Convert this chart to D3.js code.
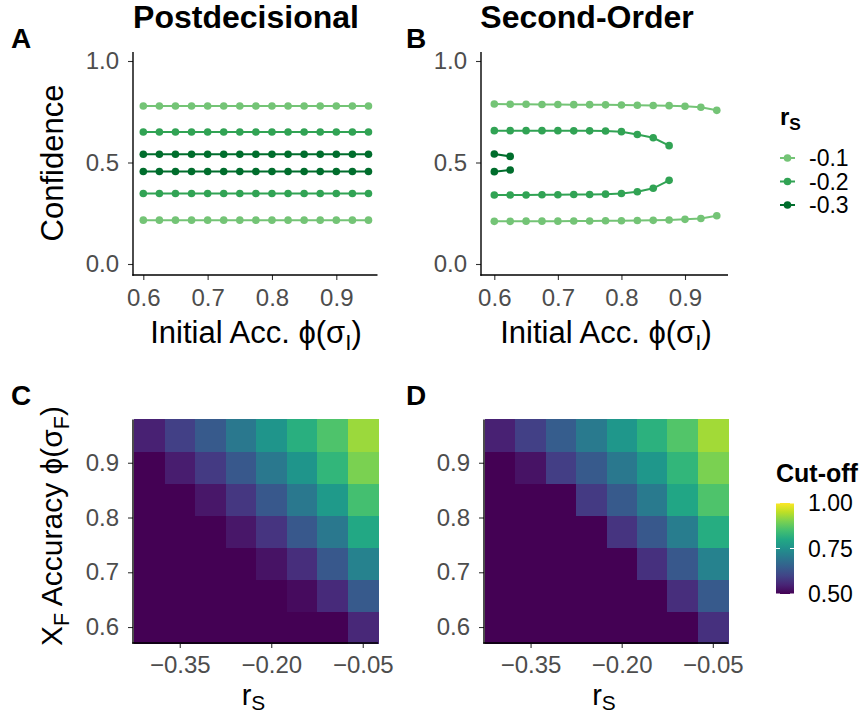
<!DOCTYPE html>
<html>
<head>
<meta charset="utf-8">
<script src="https://cdn.jsdelivr.net/npm/d3@7"></script>
<style>
  body { margin: 0; background: #fff; }
  text { font-family: "Liberation Sans", Arial, sans-serif; }
</style>
</head>
<body>
<div id="chart"></div>
<script>
// ---- data ----
var accuracy = [0.6, 0.625, 0.65, 0.675, 0.7, 0.725, 0.75, 0.775, 0.8, 0.825, 0.85, 0.875, 0.9, 0.925, 0.95];
var rsLevels = ["-0.1", "-0.2", "-0.3"];
var greens = ["#74c476", "#31a354", "#006d2c"];

// Postdecisional (panel A)
var postHi1 = [0.778, 0.778, 0.778, 0.778, 0.778, 0.778, 0.778, 0.778, 0.778, 0.778, 0.778, 0.778, 0.778, 0.778, 0.778];
var postLo1 = [0.216, 0.216, 0.216, 0.216, 0.216, 0.216, 0.216, 0.216, 0.216, 0.216, 0.216, 0.216, 0.216, 0.216, 0.216];
var postHi2 = [0.650, 0.650, 0.650, 0.650, 0.650, 0.650, 0.650, 0.650, 0.650, 0.650, 0.650, 0.650, 0.650, 0.650, 0.650];
var postLo2 = [0.347, 0.347, 0.347, 0.347, 0.347, 0.347, 0.347, 0.347, 0.347, 0.347, 0.347, 0.347, 0.347, 0.347, 0.347];
var postHi3 = [0.541, 0.541, 0.541, 0.541, 0.541, 0.541, 0.541, 0.541, 0.541, 0.541, 0.541, 0.541, 0.541, 0.541, 0.541];
var postLo3 = [0.456, 0.456, 0.456, 0.456, 0.456, 0.456, 0.456, 0.456, 0.456, 0.456, 0.456, 0.456, 0.456, 0.456, 0.456];

// Second-order (panel B)
var secHi1 = [0.788, 0.787, 0.787, 0.786, 0.786, 0.785, 0.785, 0.784, 0.783, 0.782, 0.781, 0.780, 0.777, 0.772, 0.757];
var secLo1 = [0.210, 0.210, 0.211, 0.211, 0.211, 0.212, 0.212, 0.213, 0.213, 0.214, 0.215, 0.217, 0.220, 0.224, 0.238];
var secHi2 = [0.657, 0.657, 0.657, 0.657, 0.657, 0.656, 0.656, 0.655, 0.652, 0.638, 0.622, 0.583];
var secLo2 = [0.340, 0.340, 0.340, 0.341, 0.341, 0.342, 0.342, 0.344, 0.347, 0.356, 0.373, 0.412];
var secHi3 = [0.542, 0.530];
var secLo3 = [0.455, 0.463];

// heatmaps (rows = X_F accuracy from 0.6 up to 0.95, columns = r_S)
var rsGrid = [-0.40, -0.35, -0.30, -0.25, -0.20, -0.15, -0.10, -0.05];
var xfAcc = [0.6, 0.6583, 0.7167, 0.775, 0.8333, 0.8917, 0.95];
var cutoffPost = [
    [0.5, 0.5, 0.5, 0.5, 0.5, 0.5, 0.5, 0.555],
    [0.5, 0.5, 0.5, 0.5, 0.5, 0.515, 0.56, 0.64],
    [0.5, 0.5, 0.5, 0.5, 0.525, 0.565, 0.635, 0.72],
    [0.5, 0.5, 0.5, 0.53, 0.575, 0.635, 0.70, 0.80],
    [0.5, 0.5, 0.53, 0.58, 0.635, 0.70, 0.77, 0.85],
    [0.5, 0.54, 0.585, 0.635, 0.70, 0.76, 0.83, 0.90],
    [0.545, 0.595, 0.64, 0.70, 0.76, 0.815, 0.86, 0.925]
];
var cutoffSecond = [
    [0.5, 0.5, 0.5, 0.5, 0.5, 0.5, 0.5, 0.57],
    [0.5, 0.5, 0.5, 0.5, 0.5, 0.5, 0.565, 0.64],
    [0.5, 0.5, 0.5, 0.5, 0.5, 0.57, 0.635, 0.72],
    [0.5, 0.5, 0.5, 0.5, 0.575, 0.635, 0.71, 0.81],
    [0.5, 0.5, 0.5, 0.585, 0.64, 0.705, 0.795, 0.86],
    [0.5, 0.525, 0.59, 0.64, 0.70, 0.765, 0.83, 0.90],
    [0.545, 0.595, 0.645, 0.705, 0.765, 0.82, 0.865, 0.93]
];
var confTicks = [0, 0.5, 1];
var accTicks = [0.6, 0.7, 0.8, 0.9];
var rsTicks = [-0.35, -0.20, -0.05];
var cutoffTicks = [0.5, 0.75, 1];

var postSeries = [
    {rs: "-0.1", values: postHi1}, {rs: "-0.1", values: postLo1},
    {rs: "-0.2", values: postHi2}, {rs: "-0.2", values: postLo2},
    {rs: "-0.3", values: postHi3}, {rs: "-0.3", values: postLo3}
];
var secSeries = [
    {rs: "-0.1", values: secHi1}, {rs: "-0.1", values: secLo1},
    {rs: "-0.2", values: secHi2}, {rs: "-0.2", values: secLo2},
    {rs: "-0.3", values: secHi3}, {rs: "-0.3", values: secLo3}
];

var width = 863;
var height = 717;
var svg = d3.select('#chart').append('svg')
    .attr('width', width)
    .attr('height', height);

var color = d3.scaleOrdinal().domain(rsLevels).range(greens);
var fill = d3.scaleSequential(d3.interpolateViridis).domain([0.5, 1]);

var tickGrey = "#4d4d4d";

function styleAxis(g) {
    g.select(".domain").remove();
    g.selectAll(".tick line").attr("stroke", "#333").attr("stroke-width", 1.1);
    g.selectAll(".tick text")
        .attr("fill", tickGrey)
        .style("font-size", "24px")
        .style("font-family", "'Liberation Sans', Arial, sans-serif");
}

function frame(left, right, top, bottom) {
    svg.append("line").attr("x1", left).attr("x2", left).attr("y1", top).attr("y2", bottom + 0.7)
        .attr("stroke", "#000").attr("stroke-width", 1.4);
    svg.append("line").attr("x1", left - 0.7).attr("x2", right).attr("y1", bottom).attr("y2", bottom)
        .attr("stroke", "#000").attr("stroke-width", 1.4);
}

// text with subscripts: parts = [[text, isSub], ...]
function richText(sel, parts, size, shift) {
    var s = shift || 0.22;
    parts.forEach(function (p, i) {
        var prevSub = i > 0 && parts[i - 1][1];
        var t = sel.append("tspan").text(p[0]);
        if (p[1]) {
            t.style("font-size", (size * 0.72) + "px").attr("dy", size * s);
        } else if (prevSub) {
            t.attr("dy", -size * s);
        }
    });
    return sel;
}

function linePanel(series, left, right, xScale, letter, title, titleX, axisTitleX) {
    var top = 52, bottom = 275;
    var y = d3.scaleLinear().domain([0, 1]).range([264, 61]);

    var line = d3.line()
        .x(function (d) { return xScale(d.x); })
        .y(function (d) { return y(d.y); });

    var marks = svg.append("g");
    series.forEach(function (s) {
        var pts = s.values.map(function (v, i) { return {x: accuracy[i], y: v}; });
        marks.append("path").datum(pts)
            .attr("d", line)
            .attr("fill", "none")
            .attr("stroke", color(s.rs))
            .attr("stroke-width", 2);
        marks.selectAll(null).data(pts).enter().append("circle")
            .attr("cx", function (d) { return xScale(d.x); })
            .attr("cy", function (d) { return y(d.y); })
            .attr("r", 3.8)
            .attr("fill", color(s.rs));
    });

    svg.append("g").attr("transform", "translate(" + left + ",0)")
        .call(d3.axisLeft(y).tickValues(confTicks).tickSize(5).tickPadding(9).tickFormat(d3.format(".1f")))
        .call(styleAxis);
    svg.append("g").attr("transform", "translate(0," + bottom + ")")
        .call(d3.axisBottom(xScale).tickValues(accTicks).tickSize(5).tickPadding(9).tickFormat(d3.format(".1f")))
        .call(styleAxis);
    frame(left, right, top, bottom);

    svg.append("text").attr("x", titleX).attr("y", 28).attr("text-anchor", "middle")
        .style("font-size", "32px").style("font-weight", "bold").text(title);
    svg.append("text").attr("x", letter.x).attr("y", 48)
        .style("font-size", "28px").style("font-weight", "bold").text(letter.t);

    var xt = svg.append("text").attr("x", axisTitleX).attr("y", 343).attr("text-anchor", "middle")
        .style("font-size", "31px");
    richText(xt, [["Initial Acc. \u03D5(\u03C3", false], ["I", true], [")", false]], 31);
}

// panel A
var xA = d3.scaleLinear().domain([0.6, 0.9]).range([143.3, 336.3]);
linePanel(postSeries, 133, 377.5, xA, {x: 11, t: "A"}, "Postdecisional", 246, 256);
svg.append("text").attr("transform", "translate(63,163) rotate(-90)").attr("text-anchor", "middle")
    .style("font-size", "31px").text("Confidence");

// panel B
var xB = d3.scaleLinear().domain([0.6, 0.9]).range([494.3, 685]);
linePanel(secSeries, 481, 728, xB, {x: 406, t: "B"}, "Second-Order", 587, 606);

// legend for r_S
var legend = svg.append("g");
var lt = legend.append("text").attr("x", 780).attr("y", 125).style("font-size", "24px").style("font-weight", "bold");
richText(lt, [["r", false], ["S", true]], 24);
var legendY = d3.scalePoint().domain(rsLevels).range([158, 205]);
rsLevels.forEach(function (r) {
    var yy = legendY(r);
    legend.append("line").attr("x1", 780).attr("x2", 795).attr("y1", yy).attr("y2", yy)
        .attr("stroke", color(r)).attr("stroke-width", 2);
    legend.append("circle").attr("cx", 787.5).attr("cy", yy).attr("r", 3.8).attr("fill", color(r));
    legend.append("text").attr("x", 809).attr("y", yy + 8).style("font-size", "23px").text(r);
});

// heatmaps
function heatPanel(grid, left, right, letter) {
    var top = 419.4, bottom = 643;
    var halfX = (rsGrid[1] - rsGrid[0]) / 2;
    var halfY = (xfAcc[1] - xfAcc[0]) / 2;
    var x = d3.scaleLinear().domain([rsGrid[0] - halfX, rsGrid[rsGrid.length - 1] + halfX]).range([left + 1, right]);
    var y = d3.scaleLinear().domain([xfAcc[0] - halfY, xfAcc[xfAcc.length - 1] + halfY]).range([bottom, top]);

    var cells = [];
    grid.forEach(function (row, i) {
        row.forEach(function (v, j) { cells.push({rs: rsGrid[j], acc: xfAcc[i], v: v}); });
    });
    svg.append("g").attr("shape-rendering", "crispEdges").selectAll("rect").data(cells).enter().append("rect")
        .attr("x", function (d) { return x(d.rs - halfX); })
        .attr("y", function (d) { return y(d.acc + halfY); })
        .attr("width", function (d) { return x(d.rs + halfX) - x(d.rs - halfX) + 0.6; })
        .attr("height", function (d) { return y(d.acc - halfY) - y(d.acc + halfY) + 0.6; })
        .attr("fill", function (d) { return fill(d.v); });

    svg.append("g").attr("transform", "translate(" + left + ",0)")
        .call(d3.axisLeft(y).tickValues([0.6, 0.7, 0.8, 0.9]).tickSize(5).tickPadding(9).tickFormat(d3.format(".1f")))
        .call(styleAxis);
    svg.append("g").attr("transform", "translate(0," + bottom + ")")
        .call(d3.axisBottom(x).tickValues(rsTicks).tickSize(5).tickPadding(8).tickFormat(d3.format(".2f")))
        .call(styleAxis);
    frame(left, right, top, bottom);

    svg.append("text").attr("x", letter.x).attr("y", 405)
        .style("font-size", "28px").style("font-weight", "bold").text(letter.t);
    var xt = svg.append("text").attr("x", (left + right) / 2 - 2).attr("y", 705).attr("text-anchor", "middle")
        .style("font-size", "29px");
    richText(xt, [["r", false], ["S", true]], 29, 0.18);
}

heatPanel(cutoffPost, 133, 378, {x: 11, t: "C"});
heatPanel(cutoffSecond, 484, 728, {x: 406, t: "D"});

var yt = svg.append("text").attr("transform", "translate(62,526) rotate(-90)").attr("text-anchor", "middle")
    .style("font-size", "30px");
richText(yt, [["X", false], ["F", true], [" Accuracy \u03D5(\u03C3", false], ["F", true], [")", false]], 30);

// colour bar
var cb = d3.scaleLinear().domain([0.5, 1]).range([594, 503]);
var grad = svg.append("defs").append("linearGradient").attr("id", "vir")
    .attr("x1", 0).attr("x2", 0).attr("y1", 1).attr("y2", 0);
d3.range(0, 1.0001, 0.1).forEach(function (t) {
    grad.append("stop").attr("offset", t).attr("stop-color", d3.interpolateViridis(t));
});
svg.append("rect").attr("x", 776).attr("y", cb(1)).attr("width", 18).attr("height", cb(0.5) - cb(1))
    .attr("fill", "url(#vir)");
cutoffTicks.forEach(function (t) {
    svg.append("line").attr("x1", 776).attr("x2", 780).attr("y1", cb(t)).attr("y2", cb(t))
        .attr("stroke", "#fff").attr("stroke-width", 1);
    svg.append("line").attr("x1", 790).attr("x2", 794).attr("y1", cb(t)).attr("y2", cb(t))
        .attr("stroke", "#fff").attr("stroke-width", 1);
    svg.append("text").attr("x", 808).attr("y", cb(t) + 8).style("font-size", "23px")
        .text(d3.format(".2f")(t));
});
svg.append("text").attr("x", 776).attr("y", 482).style("font-size", "25px").style("font-weight", "bold")
    .text("Cut-off");
</script>
</body>
</html>
